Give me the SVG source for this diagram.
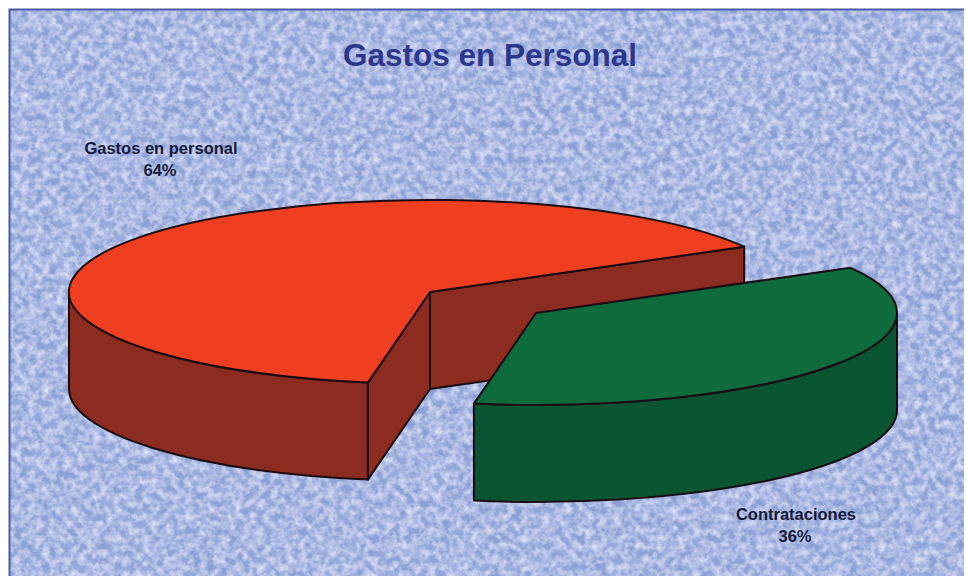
<svg xmlns="http://www.w3.org/2000/svg" width="967" height="577" viewBox="0 0 967 577">
  <style>
    .edge { stroke: #1a0c14; stroke-width: 2; stroke-linejoin: round; }
    .redTop { fill: #F03F20; }
    .redSide { fill: #8C2B1F; }
    .grnTop { fill: #0E6B3B; }
    .grnSide { fill: #0A5531; }
    .title { font-family: "Liberation Sans", Arial, sans-serif; font-weight: bold; font-size: 31.5px; fill: #2D378C; }
    .lbl { font-family: "Liberation Sans", Arial, sans-serif; font-weight: bold; font-size: 16.5px; fill: #15193A; }
  </style>
  <defs>
    <filter id="tex" x="0" y="0" width="100%" height="100%" filterUnits="objectBoundingBox">
      <feTurbulence type="fractalNoise" baseFrequency="0.14" numOctaves="3" seed="7" result="n"/>
      <feColorMatrix in="n" type="matrix" values="0 0 0 0 0.78  0 0 0 0 0.82  0 0 0 0 0.98  1.6 0 0 0 -0.55" result="light"/>
      <feTurbulence type="fractalNoise" baseFrequency="0.07" numOctaves="2" seed="19" result="n2"/>
      <feColorMatrix in="n2" type="matrix" values="0 0 0 0 0.42  0 0 0 0 0.5  0 0 0 0 0.8  0 1.5 0 0 -0.6" result="dark"/>
      <feFlood flood-color="#8BA0D5" result="base"/>
      <feComposite in="dark" in2="base" operator="over" result="b2"/>
      <feComposite in="light" in2="b2" operator="over"/>
    </filter>
  </defs>

  <rect x="0" y="0" width="967" height="577" fill="#ffffff"/>
  <g id="background">
    <rect x="9" y="9" width="955" height="567" filter="url(#tex)"/>
    <path d="M9.5,576 L9.5,9.5 L964,9.5" fill="none" stroke="#4A5AA2" stroke-width="2"/>
  </g>

  <g id="title">
    <text class="title" x="490" y="66" text-anchor="middle">Gastos en Personal</text>
  </g>

  <g id="slice-gastos">
    <path class="redSide edge" d="M367.9,382.6 A361,92 0 0 1 69,292 L69,389 A361,92 0 0 0 367.9,479.6 Z"/>
    <path class="redSide edge" d="M430,292 L367.9,382.6 L367.9,479.6 L430,389 Z"/>
    <path class="redSide edge" d="M430,292 L744.2,246.7 L744.2,343.7 L430,389 Z"/>
    <path class="redTop edge" d="M430,292 L367.9,382.6 A361,92 0 1 1 744.2,246.7 Z"/>
  </g>

  <g id="slice-contrataciones">
    <path class="grnSide edge" d="M897,313 A361,92 0 0 1 473.9,403.6 L473.9,500.6 A361,92 0 0 0 897,410 Z"/>
    <path class="grnTop edge" d="M536,313 L850.2,267.7 A361,92 0 0 1 473.9,403.6 Z"/>
  </g>

  <g id="labels">
    <text class="lbl" x="161" y="154" text-anchor="middle">Gastos en personal</text>
    <text class="lbl" x="160" y="176" text-anchor="middle">64%</text>
    <text class="lbl" x="796" y="520" text-anchor="middle">Contrataciones</text>
    <text class="lbl" x="795" y="542" text-anchor="middle">36%</text>
  </g>
</svg>
